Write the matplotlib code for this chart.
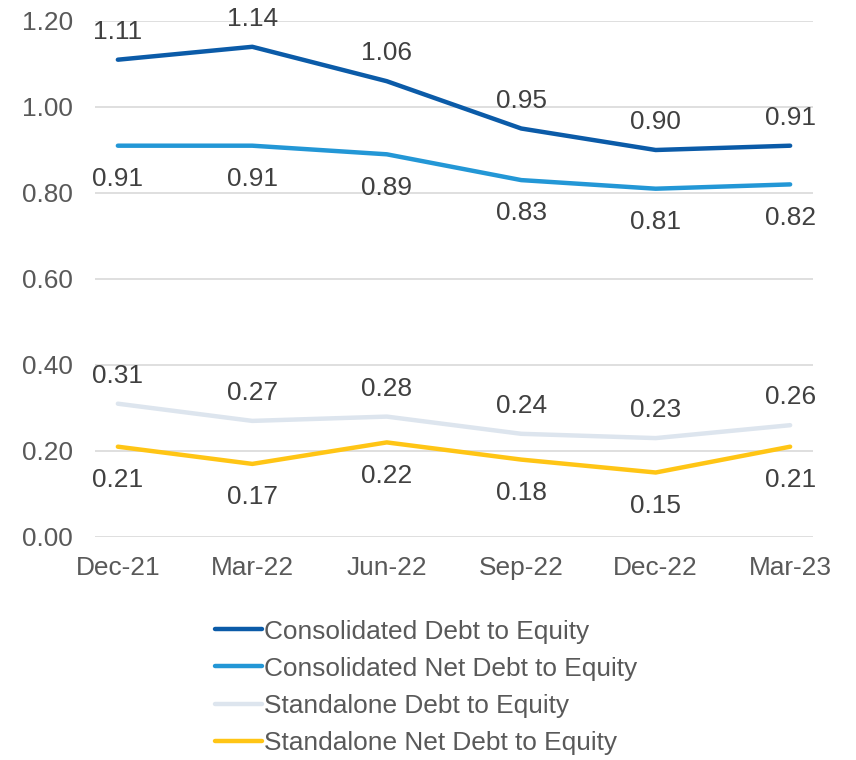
import matplotlib
matplotlib.use("Agg")
import matplotlib.pyplot as plt

categories = ["Dec-21", "Mar-22", "Jun-22", "Sep-22", "Dec-22", "Mar-23"]
cons_debt = [1.11, 1.14, 1.06, 0.95, 0.90, 0.91]
cons_net = [0.91, 0.91, 0.89, 0.83, 0.81, 0.82]
stand_debt = [0.31, 0.27, 0.28, 0.24, 0.23, 0.26]
stand_net = [0.21, 0.17, 0.22, 0.18, 0.15, 0.21]
yticks = [0.0, 0.2, 0.4, 0.6, 0.8, 1.0, 1.2]

series = [
    ("Consolidated Debt to Equity", cons_debt, "#0B5BA8", 1),
    ("Consolidated Net Debt to Equity", cons_net, "#2397D6", -1),
    ("Standalone Debt to Equity", stand_debt, "#DDE5EE", 1),
    ("Standalone Net Debt to Equity", stand_net, "#FFC515", -1),
]

plt.rcParams['font.family'] = ['Liberation Sans', 'DejaVu Sans']
fs = 18.9

fig = plt.figure(figsize=(8.56, 7.6), dpi=100)
ax = fig.add_axes([95/856, 1-537/760, (813-95)/856, (537-21)/760])

x = list(range(len(categories)))
for name, vals, col, side in series:
    ax.plot(x, vals, color=col, lw=3.2, label=name, solid_capstyle='round', zorder=3)
    off = 20.0 if side > 0 else -24.0
    for xi, v in zip(x, vals):
        ax.annotate(f"{v:.2f}", (xi, v), xytext=(0, off), textcoords='offset points',
                    ha='center', va='center', fontsize=fs, color='#404040')

ax.set_xlim(-0.17, 5.17)
ax.set_ylim(0, 1.2)
ax.set_yticks(yticks)
ax.set_yticklabels([f"{t:.2f}" for t in yticks])
ax.set_xticks(x)
ax.set_xticklabels(categories)
ax.tick_params(axis='both', length=0, labelsize=fs, labelcolor='#595959')
ax.tick_params(axis='y', pad=16)
ax.tick_params(axis='x', pad=14)
ax.grid(axis='y', color='#D9D9D9', lw=1.2, zorder=0)
for s in ax.spines.values():
    s.set_visible(False)

leg = fig.legend(loc='upper left', bbox_to_anchor=(204/856, 1-609/760), frameon=False,
                 fontsize=fs, handlelength=1.8, handletextpad=0.08, labelspacing=0.5,
                 labelcolor='#595959', borderaxespad=0)

fig.savefig("out.png", dpi=100)
